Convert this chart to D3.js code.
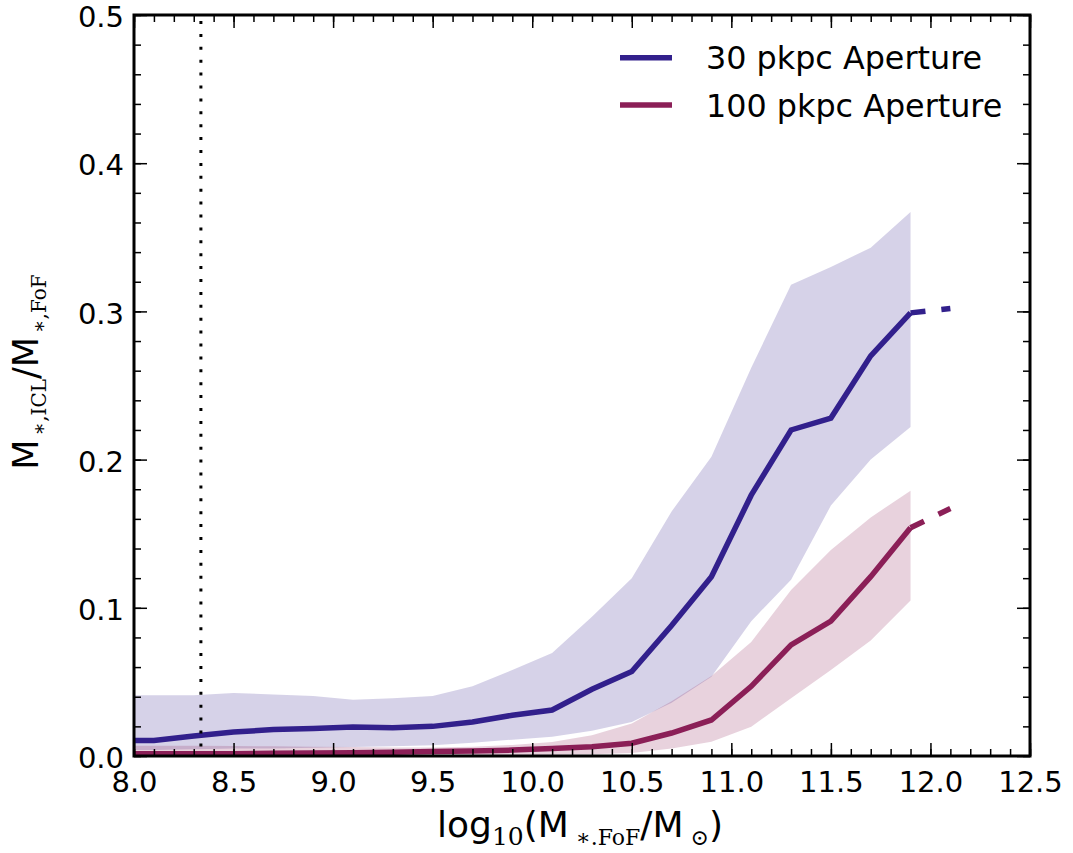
<!DOCTYPE html>
<html>
<head>
<meta charset="utf-8">
<script src="https://cdn.jsdelivr.net/npm/d3@7"></script>
<style>
  html, body { margin: 0; padding: 0; background: #fff; }
  svg { display: block; font-family: "DejaVu Sans", sans-serif; }
</style>
</head>
<body>
<svg id="chart" width="1073" height="853"></svg>
<script>
// ---- data ----
const massBins = [7.9, 8.1, 8.3, 8.5, 8.7, 8.9, 9.1, 9.3, 9.5, 9.7, 9.9, 10.1, 10.3, 10.5, 10.7, 10.9, 11.1, 11.3, 11.5, 11.7, 11.9];
const ap30Median = [0.0105, 0.0105, 0.0135, 0.0162, 0.0178, 0.0185, 0.0196, 0.019, 0.020, 0.023, 0.0275, 0.031, 0.045, 0.057, 0.088, 0.121, 0.176, 0.220, 0.228, 0.270, 0.299];
const ap30Lower  = [0.004, 0.004, 0.0045, 0.005, 0.005, 0.0055, 0.006, 0.0065, 0.0072, 0.009, 0.011, 0.013, 0.017, 0.023, 0.036, 0.0535, 0.091, 0.119, 0.169, 0.200, 0.222];
const ap30Upper  = [0.041, 0.041, 0.041, 0.0425, 0.0415, 0.0405, 0.038, 0.039, 0.0405, 0.047, 0.058, 0.0695, 0.094, 0.120, 0.165, 0.202, 0.262, 0.318, 0.330, 0.343, 0.367];
const ap100Median = [0.0015, 0.0015, 0.0015, 0.0016, 0.0018, 0.002, 0.0022, 0.0025, 0.003, 0.0033, 0.004, 0.005, 0.0062, 0.0086, 0.0155, 0.0243, 0.047, 0.075, 0.091, 0.121, 0.154];
const ap100Lower  = [0.0003, 0.0003, 0.0003, 0.0003, 0.0003, 0.0004, 0.0004, 0.0005, 0.0005, 0.0006, 0.0007, 0.0009, 0.0012, 0.002, 0.005, 0.0097, 0.0198, 0.039, 0.058, 0.078, 0.105];
const ap100Upper  = [0.007, 0.007, 0.007, 0.0068, 0.0065, 0.0062, 0.006, 0.0058, 0.0058, 0.0062, 0.0075, 0.0095, 0.014, 0.022, 0.037, 0.054, 0.077, 0.112, 0.139, 0.161, 0.179];
const extBins = [11.9, 12.1];
const ap30Ext = [0.299, 0.302];
const ap100Ext = [0.154, 0.167];
const resolutionLimit = 8.336;
const xMajorTicks = [8.0, 8.5, 9.0, 9.5, 10.0, 10.5, 11.0, 11.5, 12.0, 12.5];
const yMajorTicks = [0.0, 0.1, 0.2, 0.3, 0.4, 0.5];
const seriesNames = ["30 pkpc Aperture", "100 pkpc Aperture"];
const seriesColors = ["#32208c", "#8b1f57"];

// ---- layout ----
const svg = d3.select("#chart");
const L = 134, R = 1030, T = 15, B = 756;
const x = d3.scaleLinear().domain([8.0, 12.5]).range([L, R]);
const y = d3.scaleLinear().domain([0, 0.5]).range([B, T]);

svg.append("defs").append("clipPath").attr("id", "plotclip")
  .append("rect").attr("x", L).attr("y", T).attr("width", R - L).attr("height", B - T);

const plot = svg.append("g").attr("clip-path", "url(#plotclip)");

const area = (lo, hi) => d3.area()
  .x((d, i) => x(massBins[i]))
  .y0((d, i) => y(lo[i]))
  .y1((d, i) => y(hi[i]));
const line = d3.line().x(d => x(d[0])).y(d => y(d[1]));

// bands
plot.append("path").attr("d", area(ap30Lower, ap30Upper)(massBins))
  .attr("fill", seriesColors[0]).attr("fill-opacity", 0.2);
plot.append("path").attr("d", area(ap100Lower, ap100Upper)(massBins))
  .attr("fill", seriesColors[1]).attr("fill-opacity", 0.2);

// median lines
[[ap30Median, ap30Ext], [ap100Median, ap100Ext]].forEach(([med, ext], k) => {
  plot.append("path")
    .attr("d", line(massBins.map((m, i) => [m, med[i]])))
    .attr("fill", "none").attr("stroke", seriesColors[k]).attr("stroke-width", 5.5)
    .attr("stroke-linejoin", "miter");
  plot.append("path")
    .attr("d", line(extBins.map((m, i) => [m, ext[i]])))
    .attr("fill", "none").attr("stroke", seriesColors[k]).attr("stroke-width", 5.5)
    .attr("stroke-dasharray", "15,16");
});

// dotted resolution line
plot.append("line")
  .attr("x1", x(resolutionLimit)).attr("x2", x(resolutionLimit))
  .attr("y1", y(0.5) + 6).attr("y2", B)
  .attr("stroke", "#000").attr("stroke-width", 3)
  .attr("stroke-dasharray", "3,9.9");

// ---- axes ----
const xMinor = d3.range(80, 126).map(v => v / 10);
const yMinor = d3.range(0, 26).map(v => v * 0.02);

function styleAxis(g) {
  g.select(".domain").remove();
  g.selectAll(".tick line").attr("stroke", "#000").attr("stroke-width", 1.5);
  g.selectAll(".tick text").attr("fill", "#000").attr("font-size", 29)
    .attr("font-family", "DejaVu Sans");
}
// bottom
svg.append("g").attr("transform", `translate(0,${B})`)
  .call(d3.axisBottom(x).tickValues(xMinor).tickSize(-7).tickFormat("")).call(styleAxis);
svg.append("g").attr("transform", `translate(0,${B})`)
  .call(d3.axisBottom(x).tickValues(xMajorTicks).tickSize(-13).tickPadding(15).tickFormat(d3.format(".1f")))
  .call(styleAxis);
// top
svg.append("g").attr("transform", `translate(0,${T})`)
  .call(d3.axisTop(x).tickValues(xMinor).tickSize(-7).tickFormat("")).call(styleAxis);
svg.append("g").attr("transform", `translate(0,${T})`)
  .call(d3.axisTop(x).tickValues(xMajorTicks).tickSize(-13).tickFormat("")).call(styleAxis);
// left
svg.append("g").attr("transform", `translate(${L},0)`)
  .call(d3.axisLeft(y).tickValues(yMinor).tickSize(-7).tickFormat("")).call(styleAxis);
const yl = svg.append("g").attr("transform", `translate(${L},0)`)
  .call(d3.axisLeft(y).tickValues(yMajorTicks).tickSize(-13).tickPadding(10).tickFormat(d3.format(".1f")))
  .call(styleAxis);
yl.selectAll(".tick text").attr("dy", "0.4em");
// right
svg.append("g").attr("transform", `translate(${R},0)`)
  .call(d3.axisRight(y).tickValues(yMinor).tickSize(-7).tickFormat("")).call(styleAxis);
svg.append("g").attr("transform", `translate(${R},0)`)
  .call(d3.axisRight(y).tickValues(yMajorTicks).tickSize(-13).tickFormat("")).call(styleAxis);

// frame
svg.append("rect").attr("x", L).attr("y", T).attr("width", R - L).attr("height", B - T)
  .attr("fill", "none").attr("stroke", "#000").attr("stroke-width", 3);

// ---- axis labels ----
const xl = svg.append("text").attr("x", 580).attr("y", 837)
  .attr("text-anchor", "middle").attr("font-size", 36).attr("fill", "#000");
xl.append("tspan").text("log");
xl.append("tspan").text("10").attr("font-family", "DejaVu Serif").attr("font-size", 25).attr("dy", 8);
xl.append("tspan").text("(M").attr("dy", -8);
xl.append("tspan").text(" \u2217.FoF").attr("font-family", "DejaVu Serif").attr("font-size", 22).attr("dy", 8);
xl.append("tspan").text("/M").attr("dy", -8);
xl.append("tspan").text(" \u2299").attr("font-family", "DejaVu Serif").attr("font-size", 22).attr("dy", 8);
xl.append("tspan").text(")").attr("dy", -8);

const ylab = svg.append("text")
  .attr("transform", `translate(38,372) rotate(-90)`)
  .attr("text-anchor", "middle").attr("font-size", 35).attr("fill", "#000");
ylab.append("tspan").text("M");
ylab.append("tspan").text("\u2009\u2217,ICL").attr("font-family", "DejaVu Serif").attr("font-size", 20).attr("dy", 8);
ylab.append("tspan").text("/M").attr("dy", -8);
ylab.append("tspan").text("\u2009\u2217,FoF").attr("font-family", "DejaVu Serif").attr("font-size", 20).attr("dy", 8);

// ---- legend ----
const legendY = [57.7, 105];
seriesNames.forEach((name, i) => {
  svg.append("line").attr("x1", 620).attr("x2", 672)
    .attr("y1", legendY[i]).attr("y2", legendY[i])
    .attr("stroke", seriesColors[i]).attr("stroke-width", 5.5);
  svg.append("text").attr("x", 706).attr("y", legendY[i] + 11.5)
    .attr("font-size", 31.8).attr("fill", "#000").text(name);
});
</script>
</body>
</html>
